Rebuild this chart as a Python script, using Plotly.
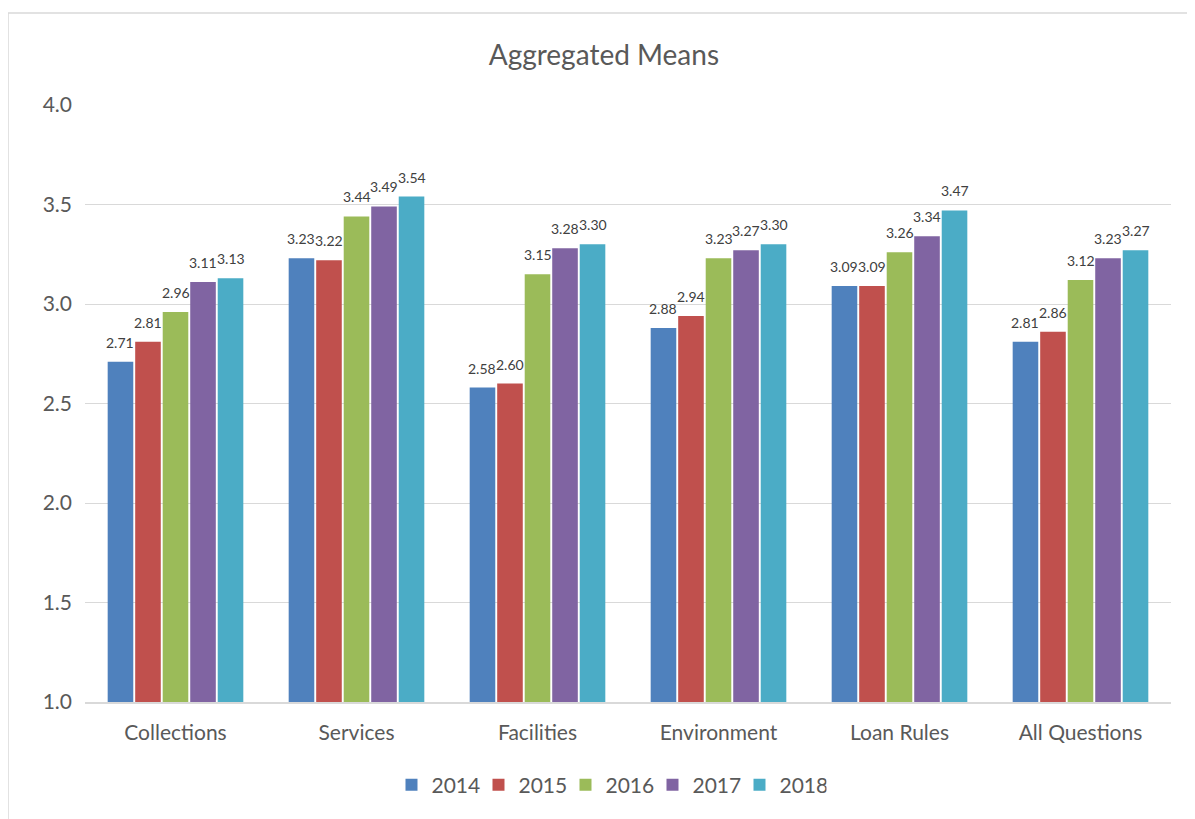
import plotly.graph_objects as go

categories = ["Collections", "Services", "Facilities", "Environment", "Loan Rules", "All Questions"]
years = ["2014", "2015", "2016", "2017", "2018"]
values_2014 = [2.71, 3.23, 2.58, 2.88, 3.09, 2.81]
values_2015 = [2.81, 3.22, 2.60, 2.94, 3.09, 2.86]
values_2016 = [2.96, 3.44, 3.15, 3.23, 3.26, 3.12]
values_2017 = [3.11, 3.49, 3.28, 3.27, 3.34, 3.23]
values_2018 = [3.13, 3.54, 3.30, 3.30, 3.47, 3.27]
series = [values_2014, values_2015, values_2016, values_2017, values_2018]
colors = ["#4F81BD", "#C0504D", "#9BBB59", "#8064A2", "#4BACC6"]

FONT = "Lato"
BARGAP = 0.24
PLOT_W = 1187 - 77 - 24
slot = PLOT_W / len(categories) * (1 - BARGAP) / len(years)

fig = go.Figure()
annotations = []
for i, (yr, vals, c) in enumerate(zip(years, series, colors)):
    fig.add_trace(go.Bar(
        name=yr, x=categories, y=vals, marker=dict(color=c, line=dict(width=0)),
    ))
    for cat, v in zip(categories, vals):
        annotations.append(dict(
            x=cat, y=v, xref="x", yref="y", text=f"{v:.2f}", showarrow=False,
            xshift=(i - (len(years) - 1) / 2) * slot, yshift=9, yanchor="bottom",
            font=dict(family=FONT, size=14, color="#404040"),
        ))

fig.update_layout(
    width=1187, height=811,
    margin=dict(l=77, r=24, t=97, b=117),
    paper_bgcolor="white", plot_bgcolor="white",
    barmode="group", bargap=BARGAP, bargroupgap=0.07,
    annotations=annotations,
    title=dict(text="Aggregated Means", x=0.502, xref="container", xanchor="center",
               y=1 - 47 / 811, yanchor="middle",
               font=dict(family=FONT, size=28, color="#595959")),
    legend=dict(orientation="h", x=0.4825, xanchor="center", y=-0.139, yanchor="middle",
                font=dict(family=FONT, size=21, color="#595959"), itemclick=False,
                entrywidth=42),
    yaxis=dict(range=[1.0, 4.0], dtick=0.5, tickformat=".1f", showgrid=True,
               gridcolor="#D9D9D9", gridwidth=1, zeroline=False, showline=False,
               ticks="", ticklabelstandoff=12,
               tickfont=dict(family=FONT, size=21, color="#595959")),
    xaxis=dict(showline=True, linecolor="#D9D9D9", linewidth=1.5, ticks="",
               ticklabelstandoff=11,
               tickfont=dict(family=FONT, size=21, color="#595959")),
    shapes=[
        dict(type="line", xref="paper", yref="paper", x0=-0.0709, x1=-0.0709, y0=1.154, y1=-0.25,
             line=dict(color="#D9D9D9", width=1.5)),
        dict(type="line", xref="paper", yref="paper", x0=-0.0709, x1=1.1, y0=1.154, y1=1.154,
             line=dict(color="#D9D9D9", width=1.5)),
    ],
)
fig.write_html("out.html")
